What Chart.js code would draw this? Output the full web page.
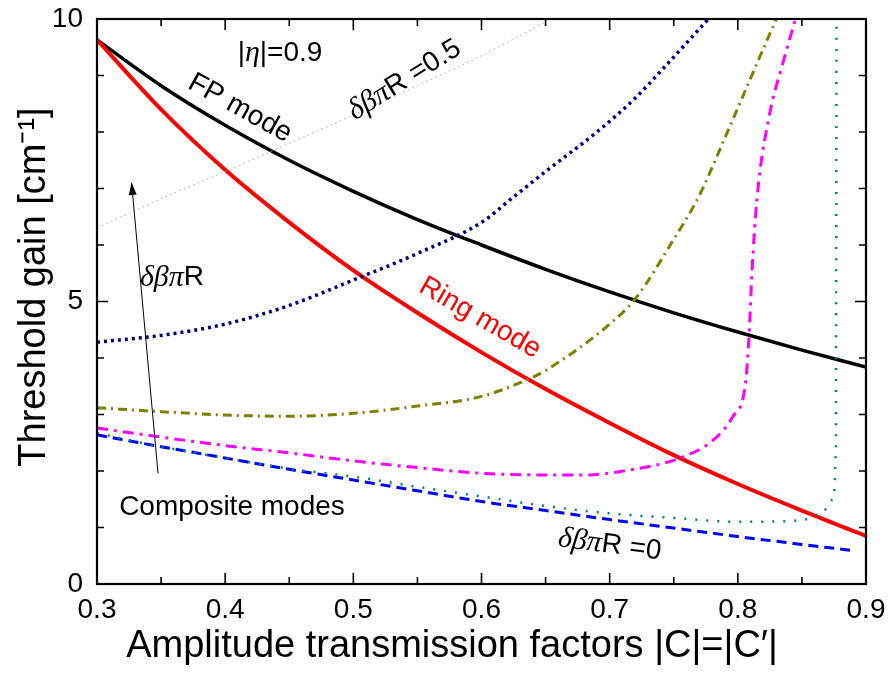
<!DOCTYPE html>
<html>
<head>
<meta charset="utf-8">
<script src="https://cdn.jsdelivr.net/npm/chart.js@4/dist/chart.umd.min.js"></script>
<style>
  html, body { margin: 0; padding: 0; background: #fff; }
  #wrap { width: 889px; height: 673px; }
</style>
</head>
<body>
<div id="wrap"><canvas id="gainChart" width="889" height="673"></canvas></div>
<script>
// amplitude transmission factor |C| (x) and threshold gain (y)
const xTickValues = [0.3, 0.4, 0.5, 0.6, 0.7, 0.8, 0.9];
const yTickValues = [0, 5, 10];

const fpX   = [0.3, 0.35, 0.4, 0.45, 0.5, 0.55, 0.6, 0.65, 0.7, 0.75, 0.8, 0.85, 0.9];
const fpY   = [9.63, 8.82, 8.12, 7.5, 6.95, 6.45, 6.0, 5.57, 5.17, 4.8, 4.46, 4.14, 3.84];

const ringX = [0.3, 0.35, 0.4, 0.45, 0.5, 0.55, 0.6, 0.65, 0.7, 0.75, 0.8, 0.85, 0.9];
const ringY = [9.63, 8.4, 7.33, 6.4, 5.55, 4.8, 4.1, 3.45, 2.85, 2.28, 1.77, 1.3, 0.85];

// composite modes, one curve per detuning value
const pinkX = [0.3, 0.35, 0.4, 0.45, 0.5, 0.55, 0.6, 0.65];
const pinkY = [6.3, 6.82, 7.3, 7.8, 8.3, 8.82, 9.35, 9.95];

const navyX = [0.3, 0.35, 0.4, 0.45, 0.5, 0.55, 0.6, 0.625, 0.65, 0.69, 0.72, 0.742, 0.777];
const navyY = [4.28, 4.4, 4.6, 4.93, 5.38, 5.85, 6.4, 6.85, 7.3, 8.0, 8.6, 9.13, 10.0];

const oliveX = [0.3, 0.35, 0.4, 0.45, 0.5, 0.55, 0.6, 0.635, 0.65, 0.7, 0.72, 0.75, 0.77, 0.79, 0.812, 0.83];
const oliveY = [3.12, 3.05, 2.99, 2.97, 3.02, 3.15, 3.32, 3.61, 3.78, 4.6, 5.05, 6.1, 6.88, 7.9, 9.06, 10.0];

const magX = [0.3, 0.35, 0.4, 0.45, 0.5, 0.55, 0.6, 0.65, 0.68, 0.716, 0.755, 0.781, 0.796, 0.806, 0.809, 0.811, 0.815, 0.825, 0.834, 0.845];
const magY = [2.76, 2.6, 2.45, 2.32, 2.18, 2.06, 1.96, 1.93, 1.93, 2.02, 2.23, 2.55, 2.96, 3.56, 4.5, 5.5, 6.83, 8.34, 9.13, 10.0];

const tealX = [0.3, 0.35, 0.4, 0.45, 0.5, 0.55, 0.6, 0.65, 0.7, 0.75, 0.8, 0.85, 0.866, 0.874, 0.8765, 0.877];
const tealY = [2.67, 2.43, 2.23, 2.04, 1.9, 1.72, 1.55, 1.38, 1.25, 1.17, 1.1, 1.13, 1.27, 1.5, 2.5, 10.0];

const blueX = [0.3, 0.35, 0.4, 0.45, 0.5, 0.55, 0.6, 0.65, 0.7, 0.75, 0.8, 0.85, 0.89];
const blueY = [2.64, 2.43, 2.23, 2.03, 1.84, 1.65, 1.46, 1.3, 1.14, 0.99, 0.84, 0.7, 0.59];

const pts = (xs, ys) => xs.map((x, i) => ({ x: x, y: ys[i] }));

function series(xs, ys, color, width, dash) {
  return {
    data: pts(xs, ys),
    borderColor: color,
    borderWidth: width,
    borderDash: dash,
    pointRadius: 0,
    fill: false,
    cubicInterpolationMode: "monotone",
  };
}

const datasets = [
  series(pinkX, pinkY, "rgba(205,160,170,0.9)", 1, [2, 3]),
  series(navyX, navyY, "#000080", 3.5, [3, 4]),
  series(oliveX, oliveY, "#808000", 3, [9, 5, 2, 5]),
  series(magX, magY, "#ff00ff", 3, [11, 6, 3, 6]),
  series(tealX, tealY, "#008080", 2.5, [2, 9]),
  series(blueX, blueY, "#0000ff", 3, [10, 6]),
  series(ringX, ringY, "#ff0000", 4, []),
  series(fpX, fpY, "#000000", 3.5, []),
];

const greek = "italic 30px 'Liberation Serif', serif";
const sans = "28px 'Liberation Sans', Arial, sans-serif";
const axisFont = "38px 'Liberation Sans', Arial, sans-serif";

// text annotations, placed in data coordinates; parts are drawn in sequence
const notes = [
  { x: 0.4428, y: 9.4, rot: 0, color: "#000", parts: [["|", sans], ["η", greek], ["|=0.9", sans]] },
  { x: 0.4116, y: 8.42, rot: 29, color: "#000", parts: [["FP mode", sans]] },
  { x: 0.540, y: 8.92, rot: -32, color: "#000", parts: [["δβπ", greek], ["R =0.5", sans]] },
  { x: 0.5988, y: 4.71, rot: 30, color: "#ff0000", parts: [["Ring mode", sans]] },
  { x: 0.3585, y: 5.42, rot: 0, color: "#000", parts: [["δβπ", greek], ["R", sans]] },
  { x: 0.4053, y: 1.36, rot: 0, color: "#000", parts: [["Composite modes", sans]] },
  { x: 0.700, y: 0.69, rot: 7.5, color: "#000", parts: [["δβπ", greek], ["R =0", sans]] },
];

function drawParts(ctx, parts) {
  let total = 0;
  parts.forEach(([t, f]) => { ctx.font = f; total += ctx.measureText(t).width; });
  let cx = -total / 2;
  parts.forEach(([t, f]) => {
    ctx.font = f;
    ctx.fillText(t, cx, 0);
    cx += ctx.measureText(t).width;
  });
}

const framePlugin = {
  id: "frame",
  afterDatasetsDraw(chart) {
    const { ctx, chartArea: a, scales } = chart;
    const sx = scales.x, sy = scales.y;
    ctx.save();
    ctx.strokeStyle = "#000";
    ctx.lineWidth = 2.2;
    ctx.strokeRect(a.left, a.top, a.right - a.left, a.bottom - a.top);

    // inward ticks on all four sides
    ctx.lineWidth = 1.6;
    ctx.beginPath();
    for (let i = 0; i <= 12; i++) {
      const v = 0.3 + i * 0.05;
      const px = sx.getPixelForValue(v);
      const len = i % 2 === 0 ? 11 : 7;
      ctx.moveTo(px, a.bottom); ctx.lineTo(px, a.bottom - len);
      ctx.moveTo(px, a.top); ctx.lineTo(px, a.top + len);
    }
    for (let v = 0; v <= 10; v++) {
      const py = sy.getPixelForValue(v);
      const len = v % 5 === 0 ? 11 : 7;
      ctx.moveTo(a.left, py); ctx.lineTo(a.left + len, py);
      ctx.moveTo(a.right, py); ctx.lineTo(a.right - len, py);
    }
    ctx.stroke();

    // arrow pointing towards growing detuning
    const x0 = sx.getPixelForValue(0.3476), y0 = sy.getPixelForValue(1.96);
    const x1 = sx.getPixelForValue(0.327), y1 = sy.getPixelForValue(7.1);
    ctx.lineWidth = 1;
    ctx.beginPath(); ctx.moveTo(x0, y0); ctx.lineTo(x1, y1); ctx.stroke();
    const ang = Math.atan2(y1 - y0, x1 - x0);
    ctx.fillStyle = "#000";
    ctx.beginPath();
    ctx.moveTo(x1, y1);
    ctx.lineTo(x1 - 12 * Math.cos(ang) + 4 * Math.sin(ang), y1 - 12 * Math.sin(ang) - 4 * Math.cos(ang));
    ctx.lineTo(x1 - 12 * Math.cos(ang) - 4 * Math.sin(ang), y1 - 12 * Math.sin(ang) + 4 * Math.cos(ang));
    ctx.closePath();
    ctx.fill();

    // annotations
    ctx.textBaseline = "middle";
    ctx.textAlign = "left";
    notes.forEach((n) => {
      ctx.save();
      ctx.translate(sx.getPixelForValue(n.x), sy.getPixelForValue(n.y));
      ctx.rotate((n.rot * Math.PI) / 180);
      ctx.fillStyle = n.color;
      drawParts(ctx, n.parts);
      ctx.restore();
    });

    // axis titles
    ctx.fillStyle = "#000";
    ctx.save();
    ctx.translate(452, 647);
    drawParts(ctx, [["Amplitude transmission factors |C|=|C′|", axisFont]]);
    ctx.restore();
    ctx.save();
    ctx.translate(35, 287);
    ctx.rotate(-Math.PI / 2);
    drawParts(ctx, [["Threshold gain [cm⁻¹]", axisFont]]);
    ctx.restore();
    ctx.restore();
  },
};

new Chart(document.getElementById("gainChart"), {
  type: "line",
  data: { datasets: datasets },
  plugins: [framePlugin],
  options: {
    responsive: false,
    animation: false,
    layout: { padding: { top: 19, right: 23, left: 0, bottom: 0 } },
    plugins: { legend: { display: false }, tooltip: { enabled: false } },
    scales: {
      x: {
        type: "linear",
        min: 0.3,
        max: 0.9,
        afterBuildTicks: (s) => { s.ticks = xTickValues.map((v) => ({ value: v })); },
        afterFit: (s) => { s.height = 89; s.paddingLeft = 0; s.paddingRight = 0; },
        grid: { display: false, drawTicks: false },
        border: { display: false },
        ticks: {
          padding: 9,
          color: "#000",
          font: { family: "'Liberation Sans', Arial", size: 28 },
          callback: (v) => v.toFixed(1),
        },
      },
      y: {
        min: 0,
        max: 10,
        afterBuildTicks: (s) => { s.ticks = yTickValues.map((v) => ({ value: v })); },
        afterFit: (s) => { s.width = 97; s.paddingTop = 0; s.paddingBottom = 0; },
        grid: { display: false, drawTicks: false },
        border: { display: false },
        ticks: {
          padding: 14,
          color: "#000",
          font: { family: "'Liberation Sans', Arial", size: 28 },
        },
      },
    },
  },
});
</script>
</body>
</html>
